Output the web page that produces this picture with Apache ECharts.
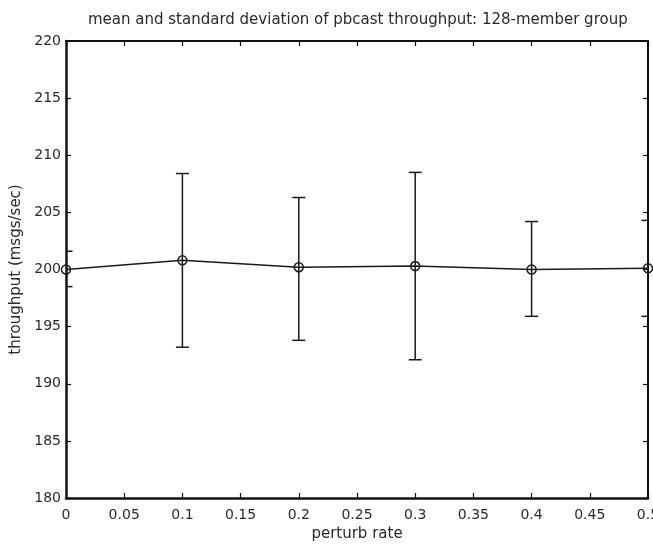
<!DOCTYPE html>
<html>
<head>
<meta charset="utf-8">
<script src="https://cdn.jsdelivr.net/npm/echarts@6/dist/echarts.min.js"></script>
<style>html,body{margin:0;padding:0;background:#fff}#c{width:653px;height:545px}</style>
</head>
<body>
<div id="c"></div>
<script>
var perturbRate = [0, 0.1, 0.2, 0.3, 0.4, 0.5];
var meanThroughput = [200.0, 200.8, 200.2, 200.3, 200.0, 200.1];
var upperBound = [201.6, 208.4, 206.3, 208.5, 204.2, 204.3];
var lowerBound = [198.5, 193.2, 193.8, 192.1, 195.9, 195.9];
var xTickLabels = ['0','0.05','0.1','0.15','0.2','0.25','0.3','0.35','0.4','0.45','0.5'];

var chart = echarts.init(document.getElementById('c'));
var font = 'DejaVu Sans, sans-serif';
var ink = '#111';
var txt = '#2a2a2a';

var lineData = perturbRate.map(function(x, i){ return [x, meanThroughput[i]]; });
var errData = perturbRate.map(function(x, i){ return [x, lowerBound[i], upperBound[i]]; });

function axisCommon() {
  return {
    axisLine: {show: true, onZero: false, lineStyle: {color: ink, width: 2}},
    axisTick: {show: true, inside: true, length: 5, lineStyle: {color: ink, width: 1.2}},
    splitLine: {show: false}
  };
}

chart.setOption({
  animation: false,
  backgroundColor: '#fff',
  title: {
    text: 'mean and standard deviation of pbcast throughput: 128-member group',
    left: 83, top: 8,
    textStyle: {fontFamily: font, fontSize: 15, fontWeight: 'normal', color: txt}
  },
  grid: {left: 66, right: 5, top: 41, bottom: 47, containLabel: false, outerBoundsMode: 'none'},
  xAxis: [
    Object.assign(axisCommon(), {
      type: 'value', min: 0, max: 0.5, interval: 0.05, position: 'bottom',
      name: 'perturb rate', nameLocation: 'middle', nameGap: 26,
      nameTextStyle: {fontFamily: font, fontSize: 15, color: txt},
      axisLabel: {
        fontFamily: font, fontSize: 14, color: txt, margin: 10,
        formatter: function(v){ return xTickLabels[Math.round(v / 0.05)]; }
      },
      axisLine: {show: true, onZero: false, lineStyle: {color: ink, width: 2.5}}
    }),
    Object.assign(axisCommon(), {
      type: 'value', min: 0, max: 0.5, interval: 0.05, position: 'top',
      axisLabel: {show: false}
    })
  ],
  yAxis: [
    Object.assign(axisCommon(), {
      type: 'value', min: 180, max: 220, interval: 5, position: 'left',
      name: 'throughput (msgs/sec)', nameLocation: 'middle', nameGap: 38,
      nameTextStyle: {fontFamily: font, fontSize: 15, color: txt},
      axisLabel: {fontFamily: font, fontSize: 14, color: txt, margin: 5},
      axisLine: {show: true, onZero: false, lineStyle: {color: ink, width: 2.5}}
    }),
    Object.assign(axisCommon(), {
      type: 'value', min: 180, max: 220, interval: 5, position: 'right',
      axisLabel: {show: false}
    })
  ],
  series: [
    {
      type: 'custom',
      xAxisIndex: 0, yAxisIndex: 0,
      data: errData,
      clip: true,
      z: 3,
      renderItem: function(params, api) {
        var x = api.value(0);
        var lo = api.coord([x, api.value(1)]);
        var hi = api.coord([x, api.value(2)]);
        var hw = 6.5;
        var style = {stroke: '#1a1a1a', lineWidth: 1.5, fill: null};
        return {
          type: 'group',
          children: [
            {type: 'line', shape: {x1: hi[0], y1: hi[1], x2: lo[0], y2: lo[1]}, style: style},
            {type: 'line', shape: {x1: hi[0] - hw, y1: hi[1], x2: hi[0] + hw, y2: hi[1]}, style: style},
            {type: 'line', shape: {x1: lo[0] - hw, y1: lo[1], x2: lo[0] + hw, y2: lo[1]}, style: style}
          ]
        };
      }
    },
    {
      type: 'line',
      xAxisIndex: 0, yAxisIndex: 0,
      data: lineData,
      clip: false,
      z: 4,
      symbol: 'circle', symbolSize: 9,
      showAllSymbol: true,
      lineStyle: {color: '#1a1a1a', width: 1.5},
      itemStyle: {color: 'rgba(255,255,255,0)', borderColor: '#1a1a1a', borderWidth: 1.5}
    }
  ]
});
</script>
</body>
</html>
